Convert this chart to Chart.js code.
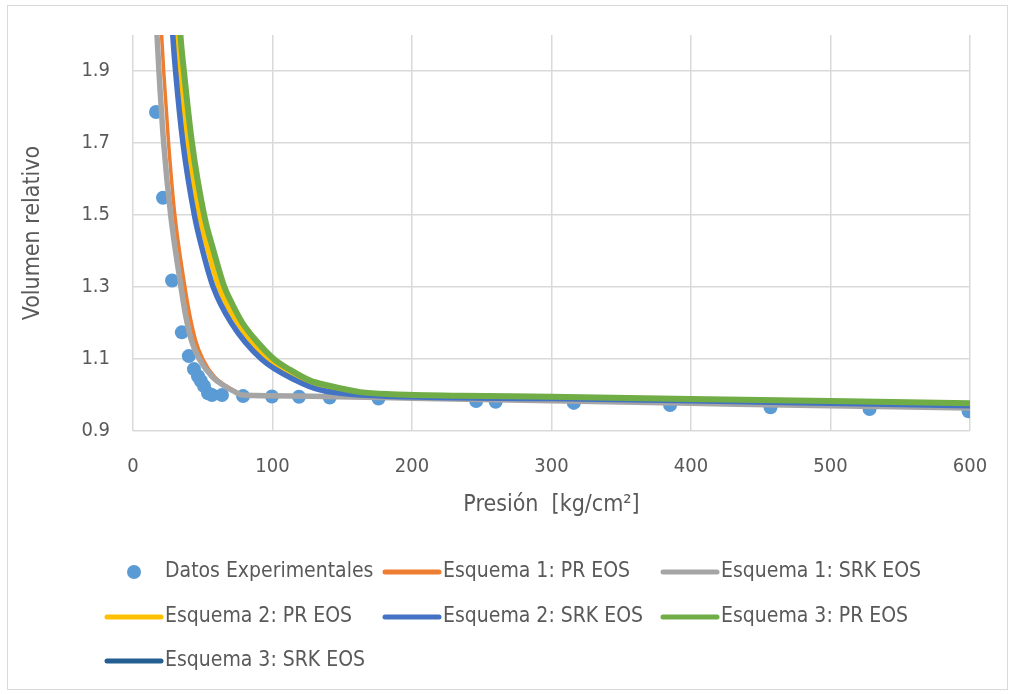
<!DOCTYPE html>
<html>
<head>
<meta charset="utf-8">
<script src="https://cdn.jsdelivr.net/npm/chart.js@4.4.1/dist/chart.umd.min.js"></script>
<style>
  html, body { margin: 0; padding: 0; background: #fff; }
  canvas { display: block; }
</style>
</head>
<body>
<canvas id="chart" width="1013" height="694"></canvas>
<script>
// Experimental relative volume vs pressure
const presionExp = [16.5, 21.5, 28, 35, 40, 43.7, 46.6, 48.7, 50.9, 53.8, 56.6, 63.8, 78.9, 99.6, 119, 141, 176, 246, 260, 316, 385, 457, 528, 599];
const volumenExp = [1.786, 1.548, 1.318, 1.174, 1.108, 1.072, 1.052, 1.039, 1.025, 1.005, 1.000, 1.000, 0.997, 0.996, 0.995, 0.993, 0.990, 0.983, 0.981, 0.978, 0.972, 0.966, 0.961, 0.955];

// Esquema 1: PR EOS
const e1prP = [18.5, 20.5, 22, 25.5, 30, 36.5, 40.5, 45, 50, 58.5, 67, 73.5, 78, 100, 200, 300, 400, 500, 600];
const e1prV = [2.15, 2.0, 1.9, 1.7, 1.5, 1.318, 1.226, 1.15, 1.1, 1.05, 1.025, 1.01, 1.0, 0.998, 0.991, 0.985, 0.978, 0.972, 0.966];

// Esquema 1: SRK EOS
const e1srkP = [15.5, 17.2, 18.6, 22, 27, 33.7, 37.5, 42, 47.5, 57, 65.5, 72.5, 78, 100, 200, 300, 400, 500, 600];
const e1srkV = [2.15, 2.0, 1.9, 1.7, 1.5, 1.318, 1.226, 1.15, 1.1, 1.05, 1.025, 1.01, 1.0, 0.998, 0.991, 0.984, 0.977, 0.970, 0.964];

// Esquema 2: PR EOS
const e2prP = [29.5, 31, 33.3, 39, 47.5, 54, 61.5, 75, 96, 121, 140, 170, 300, 400, 500, 600];
const e2prV = [2.1, 2.0, 1.9, 1.7, 1.5, 1.4, 1.3, 1.2, 1.1, 1.04, 1.014, 1.0, 0.993, 0.988, 0.982, 0.976];

// Esquema 2: SRK EOS
const e2srkP = [27, 28.5, 30.5, 35.8, 44, 50, 57.5, 70.5, 92, 117, 134, 163, 300, 400, 500, 600];
const e2srkV = [2.1, 2.0, 1.9, 1.7, 1.5, 1.4, 1.3, 1.2, 1.1, 1.04, 1.014, 1.0, 0.990, 0.984, 0.977, 0.970];

// Esquema 3: PR EOS
const e3prP = [32.5, 34, 36.5, 42.3, 51, 57.8, 65.5, 71.5, 78.5, 88.5, 101, 113, 127, 139, 163, 186, 234, 300, 400, 500, 600];
const e3prV = [2.1, 2.0, 1.9, 1.7, 1.5, 1.4, 1.3, 1.25, 1.2, 1.15, 1.1, 1.069, 1.04, 1.027, 1.008, 1.002, 0.998, 0.995, 0.989, 0.983, 0.977];

// Esquema 3: SRK EOS (no curve in the plotted range)
const e3srkP = [];
const e3srkV = [];

// Axis ticks
const yTicks = [0.9, 1.1, 1.3, 1.5, 1.7, 1.9];
const xTicks = [0, 100, 200, 300, 400, 500, 600];

const FONT = "'Liberation Sans Narrow', 'DejaVu Sans Condensed', 'Open Sans', sans-serif";
const TEXT = '#595959';
const GRID = '#d9d9d9';

const pts = (xs, ys) => xs.map((x, i) => ({ x: x, y: ys[i] }));

function curve(label, xs, ys, color, width, order) {
  return {
    label: label,
    data: pts(xs, ys),
    showLine: true,
    borderColor: color,
    backgroundColor: color,
    borderWidth: width,
    pointRadius: 0,
    pointHoverRadius: 0,
    cubicInterpolationMode: 'monotone',
    borderCapStyle: 'round',
    borderJoinStyle: 'round',
    order: order
  };
}

// Legend laid out in three columns below the plot
const gridLegend = {
  id: 'gridLegend',
  afterDraw(chart, args, opts) {
    const ctx = chart.ctx;
    ctx.save();
    ctx.font = opts.fontSize + 'px ' + FONT;
    ctx.textBaseline = 'middle';
    ctx.textAlign = 'left';
    let prevEnd = -Infinity;
    chart.data.datasets.forEach((ds, i) => {
      const row = Math.floor(i / 3), col = i % 3;
      if (col === 0) prevEnd = -Infinity;
      const y = opts.rowY[row];
      const x0 = Math.max(opts.colX[col], prevEnd + opts.gap);
      if (ds.showLine) {
        ctx.strokeStyle = ds.borderColor;
        ctx.lineWidth = opts.lineWidth;
        ctx.lineCap = 'round';
        ctx.beginPath();
        ctx.moveTo(x0 + 2, y);
        ctx.lineTo(x0 + opts.symbolW - 2, y);
        ctx.stroke();
      } else {
        ctx.fillStyle = ds.backgroundColor;
        ctx.beginPath();
        ctx.arc(x0 + opts.symbolW / 2, y, opts.dotR, 0, Math.PI * 2);
        ctx.fill();
      }
      const tx = x0 + opts.symbolW + 2;
      ctx.fillStyle = TEXT;
      ctx.fillText(ds.label, tx, y);
      prevEnd = tx + ctx.measureText(ds.label).width;
    });
    ctx.restore();
  }
};

// Light frame around the whole chart
const frame = {
  id: 'frame',
  beforeDraw(chart) {
    const ctx = chart.ctx;
    ctx.save();
    ctx.fillStyle = '#ffffff';
    ctx.fillRect(0, 0, chart.width, chart.height);
    ctx.strokeStyle = GRID;
    ctx.lineWidth = 1;
    ctx.strokeRect(7.5, 5.5, 1000, 684);
    ctx.restore();
  }
};

Chart.defaults.font.family = FONT;
Chart.defaults.color = TEXT;

new Chart(document.getElementById('chart'), {
  type: 'scatter',
  data: {
    datasets: [
      {
        label: 'Datos Experimentales',
        data: pts(presionExp, volumenExp),
        showLine: false,
        backgroundColor: '#5B9BD5',
        borderColor: '#5B9BD5',
        borderWidth: 0,
        pointRadius: 7,
        pointHoverRadius: 7,
        order: 7
      },
      curve('Esquema 1: PR EOS', e1prP, e1prV, '#ED7D31', 3.5, 6),
      curve('Esquema 1: SRK EOS', e1srkP, e1srkV, '#A5A5A5', 5.5, 5),
      curve('Esquema 2: PR EOS', e2prP, e2prV, '#FFC000', 5, 4),
      curve('Esquema 2: SRK EOS', e2srkP, e2srkV, '#4472C4', 5.5, 3),
      curve('Esquema 3: PR EOS', e3prP, e3prV, '#70AD47', 6, 2),
      curve('Esquema 3: SRK EOS', e3srkP, e3srkV, '#255E91', 5, 1)
    ]
  },
  options: {
    responsive: false,
    animation: false,
    devicePixelRatio: 1,
    layout: { padding: { left: 0, right: 43, top: 34, bottom: 163 } },
    plugins: {
      legend: { display: false },
      tooltip: { enabled: false },
      gridLegend: {
        rowY: [572, 617, 661],
        colX: [105, 383, 661],
        gap: 3,
        symbolW: 58,
        lineWidth: 5,
        dotR: 7,
        fontSize: 21
      }
    },
    scales: {
      x: {
        type: 'linear',
        min: 0,
        max: 600,
        afterBuildTicks: (s) => { s.ticks = xTicks.map(v => ({ value: v })); },
        afterFit: (s) => { s.height = 100; },
        grid: { color: GRID, lineWidth: 1.5, drawTicks: false },
        border: { display: false },
        ticks: { padding: 24, font: { size: 20 }, color: TEXT },
        title: {
          display: true,
          text: 'Presión  [kg/cm²]',
          font: { size: 23 },
          color: TEXT,
          padding: { top: 0, bottom: 12 }
        }
      },
      y: {
        type: 'linear',
        min: 0.9,
        max: 2.0,
        afterBuildTicks: (s) => { s.ticks = yTicks.map(v => ({ value: v })); },
        afterFit: (s) => { s.width = 133; },
        grid: { color: GRID, lineWidth: 1.5, drawTicks: false },
        border: { display: false },
        ticks: { padding: 23, font: { size: 20 }, color: TEXT, callback: (v) => v.toFixed(1) },
        title: {
          display: true,
          text: 'Volumen relativo',
          font: { size: 23 },
          color: TEXT,
          padding: { top: 19, bottom: 0 }
        }
      }
    }
  },
  plugins: [frame, gridLegend]
});
</script>
</body>
</html>
